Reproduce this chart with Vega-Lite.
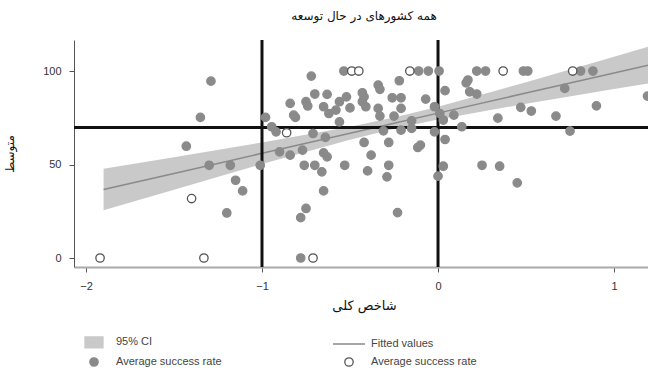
{
  "$schema": "https://vega.github.io/schema/vega-lite/v6.json",
  "autosize": {"type": "none"},
  "width": 580,
  "height": 227,
  "padding": {"left": 74, "top": 40, "right": 0, "bottom": 103},
  "background": "white",
  "title": {"text": "همه کشورهای در حال توسعه", "fontSize": 12, "fontWeight": "normal", "font": "DejaVu Sans", "color": "#111", "offset": 16, "anchor": "middle"},
  "config": {
    "view": {"stroke": null},
    "axis": {"grid": false, "labelFont": "Liberation Sans", "labelFontSize": 11, "labelColor": "#333", "tickColor": "#555", "titleFont": "DejaVu Sans", "titleFontWeight": "normal", "titleColor": "#111", "titleFontSize": 12}
  },
  "datasets": {
    "band": [
      {"x": -1.9, "lo": 25.5, "hi": 47.8, "fit": 36.65},
      {"x": -1.5, "lo": 36.55, "hi": 53.95, "fit": 45.25},
      {"x": -1.0, "lo": 50.24, "hi": 61.76, "fit": 56.0},
      {"x": -0.5, "lo": 63.32, "hi": 70.18, "fit": 66.75},
      {"x": -0.25, "lo": 69.1, "hi": 75.1, "fit": 72.1},
      {"x": 0.0, "lo": 74.1, "hi": 80.9, "fit": 77.5},
      {"x": 0.5, "lo": 82.56, "hi": 93.94, "fit": 88.25},
      {"x": 1.0, "lo": 90.4, "hi": 107.6, "fit": 99.0},
      {"x": 1.227, "lo": 93.8, "hi": 113.95, "fit": 103.88}
    ],
    "vlines": [{"v": -1}, {"v": 0}],
    "hlines": [{"h": 69.8}],
    "pts": [
      {"x": -1.29, "y": 94.6, "kind": "filled"},
      {"x": -1.35, "y": 75.2, "kind": "filled"},
      {"x": -1.43, "y": 59.8, "kind": "filled"},
      {"x": -1.30, "y": 49.6, "kind": "filled"},
      {"x": -1.18, "y": 49.6, "kind": "filled"},
      {"x": -1.15, "y": 41.6, "kind": "filled"},
      {"x": -1.11, "y": 35.9, "kind": "filled"},
      {"x": -1.20, "y": 24.1, "kind": "filled"},
      {"x": -1.01, "y": 49.6, "kind": "filled"},
      {"x": -0.98, "y": 75.2, "kind": "filled"},
      {"x": -0.945, "y": 70.2, "kind": "filled"},
      {"x": -0.92, "y": 67.5, "kind": "filled"},
      {"x": -0.78, "y": 0, "kind": "filled"},
      {"x": -0.78, "y": 21.6, "kind": "filled"},
      {"x": -0.75, "y": 26.5, "kind": "filled"},
      {"x": -0.65, "y": 35.9, "kind": "filled"},
      {"x": -0.76, "y": 49.6, "kind": "filled"},
      {"x": -0.70, "y": 49.6, "kind": "filled"},
      {"x": -0.66, "y": 46.1, "kind": "filled"},
      {"x": -0.53, "y": 49.6, "kind": "filled"},
      {"x": -0.90, "y": 56.8, "kind": "filled"},
      {"x": -0.84, "y": 55, "kind": "filled"},
      {"x": -0.77, "y": 57.7, "kind": "filled"},
      {"x": -0.65, "y": 56.2, "kind": "filled"},
      {"x": -0.63, "y": 54.1, "kind": "filled"},
      {"x": -0.71, "y": 66.6, "kind": "filled"},
      {"x": -0.64, "y": 64.5, "kind": "filled"},
      {"x": -0.72, "y": 97.3, "kind": "filled"},
      {"x": -0.535, "y": 100, "kind": "filled"},
      {"x": -0.84, "y": 82.7, "kind": "filled"},
      {"x": -0.75, "y": 83.6, "kind": "filled"},
      {"x": -0.74, "y": 81.3, "kind": "filled"},
      {"x": -0.70, "y": 87.7, "kind": "filled"},
      {"x": -0.63, "y": 87.5, "kind": "filled"},
      {"x": -0.65, "y": 80.9, "kind": "filled"},
      {"x": -0.62, "y": 77.3, "kind": "filled"},
      {"x": -0.58, "y": 79.1, "kind": "filled"},
      {"x": -0.56, "y": 83.6, "kind": "filled"},
      {"x": -0.52, "y": 86.2, "kind": "filled"},
      {"x": -0.50, "y": 80.3, "kind": "filled"},
      {"x": -0.56, "y": 72.8, "kind": "filled"},
      {"x": -0.82, "y": 76.4, "kind": "filled"},
      {"x": -0.81, "y": 75.2, "kind": "filled"},
      {"x": -0.11, "y": 100, "kind": "filled"},
      {"x": -0.055, "y": 100, "kind": "filled"},
      {"x": 0.006, "y": 100, "kind": "filled"},
      {"x": 0.22, "y": 100, "kind": "filled"},
      {"x": 0.27, "y": 100, "kind": "filled"},
      {"x": 0.485, "y": 100, "kind": "filled"},
      {"x": 0.51, "y": 100, "kind": "filled"},
      {"x": 0.81, "y": 100, "kind": "filled"},
      {"x": 0.88, "y": 100, "kind": "filled"},
      {"x": -0.22, "y": 94.8, "kind": "filled"},
      {"x": -0.34, "y": 92.5, "kind": "filled"},
      {"x": -0.33, "y": 90.2, "kind": "filled"},
      {"x": 0.17, "y": 95.2, "kind": "filled"},
      {"x": 0.16, "y": 93.7, "kind": "filled"},
      {"x": 0.04, "y": 89.5, "kind": "filled"},
      {"x": 0.18, "y": 88.9, "kind": "filled"},
      {"x": 0.22, "y": 87.7, "kind": "filled"},
      {"x": -0.43, "y": 88.4, "kind": "filled"},
      {"x": -0.42, "y": 86.2, "kind": "filled"},
      {"x": -0.26, "y": 85.7, "kind": "filled"},
      {"x": -0.21, "y": 85.7, "kind": "filled"},
      {"x": -0.07, "y": 85, "kind": "filled"},
      {"x": -0.43, "y": 83.6, "kind": "filled"},
      {"x": -0.41, "y": 80.9, "kind": "filled"},
      {"x": -0.34, "y": 80, "kind": "filled"},
      {"x": -0.21, "y": 80, "kind": "filled"},
      {"x": -0.02, "y": 80.9, "kind": "filled"},
      {"x": 0.47, "y": 80.6, "kind": "filled"},
      {"x": 0.53, "y": 78.6, "kind": "filled"},
      {"x": 0.72, "y": 90.7, "kind": "filled"},
      {"x": 0.90, "y": 81.4, "kind": "filled"},
      {"x": 1.19, "y": 86.6, "kind": "filled"},
      {"x": 0.09, "y": 76.4, "kind": "filled"},
      {"x": 0.01, "y": 77.3, "kind": "filled"},
      {"x": 0.03, "y": 73.8, "kind": "filled"},
      {"x": 0.34, "y": 74.8, "kind": "filled"},
      {"x": 0.67, "y": 75.9, "kind": "filled"},
      {"x": -0.33, "y": 75.9, "kind": "filled"},
      {"x": -0.25, "y": 75.9, "kind": "filled"},
      {"x": -0.15, "y": 73.4, "kind": "filled"},
      {"x": 0.135, "y": 70.2, "kind": "filled"},
      {"x": 0.75, "y": 67.9, "kind": "filled"},
      {"x": -0.31, "y": 68, "kind": "filled"},
      {"x": -0.21, "y": 68.4, "kind": "filled"},
      {"x": -0.15, "y": 69.3, "kind": "filled"},
      {"x": -0.02, "y": 67.5, "kind": "filled"},
      {"x": 0.04, "y": 63.4, "kind": "filled"},
      {"x": -0.42, "y": 61.8, "kind": "filled"},
      {"x": -0.28, "y": 61.8, "kind": "filled"},
      {"x": -0.10, "y": 60.4, "kind": "filled"},
      {"x": -0.115, "y": 59.1, "kind": "filled"},
      {"x": -0.38, "y": 55, "kind": "filled"},
      {"x": -0.28, "y": 49.6, "kind": "filled"},
      {"x": -0.40, "y": 46.6, "kind": "filled"},
      {"x": -0.29, "y": 43.4, "kind": "filled"},
      {"x": 0.03, "y": 49.1, "kind": "filled"},
      {"x": 0.0, "y": 43.8, "kind": "filled"},
      {"x": 0.25, "y": 49.6, "kind": "filled"},
      {"x": 0.35, "y": 49.1, "kind": "filled"},
      {"x": 0.45, "y": 40.2, "kind": "filled"},
      {"x": -0.23, "y": 24.3, "kind": "filled"},
      {"x": -1.92, "y": 0, "kind": "hollow"},
      {"x": -1.33, "y": 0, "kind": "hollow"},
      {"x": -1.40, "y": 31.8, "kind": "hollow"},
      {"x": -0.86, "y": 67, "kind": "hollow"},
      {"x": -0.71, "y": 0, "kind": "hollow"},
      {"x": -0.49, "y": 100, "kind": "hollow"},
      {"x": -0.45, "y": 100, "kind": "hollow"},
      {"x": -0.16, "y": 100, "kind": "hollow"},
      {"x": 0.37, "y": 100, "kind": "hollow"},
      {"x": 0.765, "y": 100, "kind": "hollow"}
    ]
  },
  "layer": [
    {
      "data": {"name": "band"},
      "mark": {"type": "area", "color": "#c9c9c9", "opacity": 1},
      "encoding": {
        "x": {"field": "x", "type": "quantitative", "scale": {"domain": [-2.068, 1.227], "nice": false, "zero": false},
          "axis": {"values": [-2, -1, 0, 1], "format": "d", "title": "شاخص کلی", "titleFontSize": 13, "domainColor": "#aaa", "domainWidth": 2, "tickSize": 5, "labelPadding": 8, "titlePadding": 8}},
        "y": {"field": "lo", "type": "quantitative", "scale": {"domain": [-4.8, 116.6], "nice": false, "zero": false},
          "axis": {"values": [0, 50, 100], "title": "متوسط", "domainColor": "#555", "domainWidth": 1, "tickSize": 5, "labelPadding": 8, "titlePadding": 26}},
        "y2": {"field": "hi"}
      }
    },
    {
      "data": {"name": "band"},
      "mark": {"type": "line", "color": "#8a8a8a", "strokeWidth": 1.5},
      "encoding": {
        "x": {"field": "x", "type": "quantitative"},
        "y": {"field": "fit", "type": "quantitative"}
      }
    },
    {
      "data": {"name": "vlines"},
      "mark": {"type": "rule", "color": "#111", "strokeWidth": 3},
      "encoding": {"x": {"field": "v", "type": "quantitative"}}
    },
    {
      "data": {"name": "hlines"},
      "mark": {"type": "rule", "color": "#111", "strokeWidth": 3},
      "encoding": {"y": {"field": "h", "type": "quantitative"}}
    },
    {
      "data": {"name": "pts"},
      "mark": {"type": "point", "filled": false, "strokeWidth": 1.3, "opacity": 1, "size": 400},
      "encoding": {
        "x": {"field": "x", "type": "quantitative"},
        "y": {"field": "y", "type": "quantitative"},
        "fill": {"field": "kind", "type": "nominal", "scale": {"domain": ["ci", "fit", "filled", "hollow"], "range": ["#c9c9c9", "transparent", "#8a8a8a", "white"]},
          "legend": {"orient": "none", "legendX": 9, "legendY": 291, "columns": 2, "direction": "horizontal", "title": null, "labelFont": "Liberation Sans", "labelFontSize": 11, "labelColor": "#444", "columnPadding": 108, "rowPadding": -9, "symbolSize": 400, "symbolStrokeWidth": 1.3, "labelOffset": 11,
            "labelExpr": "datum.value == 'ci' ? '95% CI' : datum.value == 'fit' ? 'Fitted values' : 'Average success rate'"}},
        "stroke": {"field": "kind", "type": "nominal", "scale": {"domain": ["ci", "fit", "filled", "hollow"], "range": ["#c9c9c9", "#777", "#8a8a8a", "#555"]}},
        "shape": {"field": "kind", "type": "nominal", "scale": {"domain": ["ci", "fit", "filled", "hollow"], "range": [
          "M -0.9 -0.55 L 0.9 -0.55 L 0.9 0.55 L -0.9 0.55 Z",
          "M -1.6 0 L 1.6 0",
          "M -0.42 0 A 0.42 0.42 0 1 0 0.42 0 A 0.42 0.42 0 1 0 -0.42 0 Z",
          "M -0.42 0 A 0.42 0.42 0 1 0 0.42 0 A 0.42 0.42 0 1 0 -0.42 0 Z"
        ]}}
      }
    }
  ]
}
